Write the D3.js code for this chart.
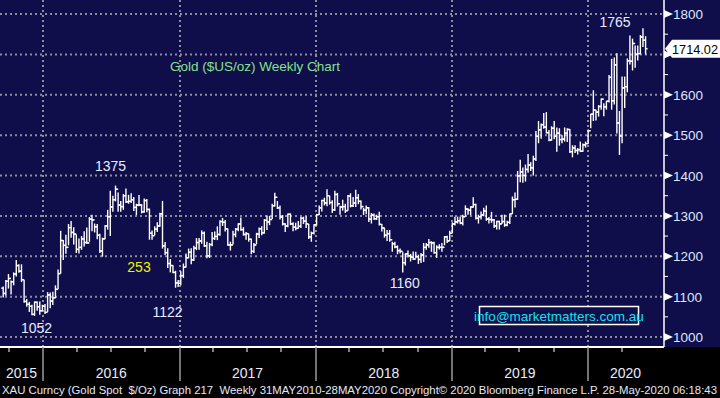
<!DOCTYPE html>
<html>
<head>
<meta charset="utf-8">
<script src="https://cdn.jsdelivr.net/npm/d3@7"></script>
<style>
  html, body { margin: 0; padding: 0; background: #000; }
  svg { display: block; }
  text { font-family: 'Liberation Sans', Arial, sans-serif; }
</style>
</head>
<body>
<script>
// weekly bars, first week ending 11 Sep 2015
const firstWeek = new Date(2015, 8, 11);
const firstOpen = 1121;

const closes = [
  1108, 1138, 1145, 1137, 1156, 1177, 1163, 1142, 1088, 1081, 1076, 1056, 1086, 1075, 1065, 1076, 1061,
  1104, 1089, 1097, 1118, 1157, 1239, 1227, 1222, 1271, 1259, 1255, 1217, 1222, 1243, 1234, 1233, 1292, 1290, 1273, 1252, 1213, 1243, 1275, 1298, 1322, 1340, 1366, 1327, 1323, 1350, 1335, 1336, 1340, 1321, 1327, 1327, 1310, 1338, 1316, 1257, 1251, 1267, 1275, 1305, 1226, 1209, 1182, 1177, 1160, 1134, 1133, 1152,
  1173, 1196, 1210, 1191, 1220, 1234, 1238, 1257, 1226, 1201, 1229, 1244, 1249, 1254, 1286, 1284, 1268, 1228, 1228, 1254, 1267, 1280, 1266, 1254, 1256, 1242, 1212, 1228, 1255, 1268, 1258, 1289, 1285, 1291, 1325, 1346, 1320, 1297, 1280, 1275, 1304, 1280, 1272, 1269, 1274, 1294, 1287, 1280, 1248, 1257, 1278, 1303,
  1320, 1338, 1332, 1350, 1333, 1315, 1353, 1330, 1322, 1323, 1313, 1349, 1325, 1332, 1345, 1336, 1323, 1314, 1320, 1292, 1302, 1293, 1298, 1279, 1270, 1252, 1256, 1241, 1231, 1223, 1214, 1212, 1184, 1206, 1201, 1198, 1193, 1199, 1192, 1203, 1222, 1228, 1234, 1233, 1209, 1222, 1222, 1222, 1248, 1238, 1257, 1280,
  1285, 1288, 1282, 1298, 1317, 1314, 1322, 1328, 1294, 1298, 1302, 1312, 1292, 1291, 1290, 1275, 1286, 1280, 1286, 1277, 1284, 1305, 1340, 1341, 1399, 1409, 1400, 1415, 1426, 1419, 1441, 1497, 1513, 1526, 1520, 1506, 1488, 1517, 1497, 1505, 1489, 1490, 1505, 1514, 1459, 1468, 1462, 1464, 1460, 1476, 1479, 1511,
  1552, 1562, 1557, 1571, 1589, 1570, 1584, 1643, 1585, 1674, 1530, 1498, 1617, 1620, 1684, 1683, 1727, 1700, 1702, 1743, 1735, 1714
];

const highs = [
  1125, 1141, 1156, 1140, 1160, 1191, 1180, 1180, 1142, 1094, 1087, 1080, 1088, 1088, 1088, 1080, 1082,
  1111, 1110, 1112, 1128, 1167, 1263, 1240, 1253, 1280, 1287, 1272, 1254, 1244, 1250, 1262, 1271, 1297, 1303, 1281, 1280, 1256, 1246, 1277, 1315, 1362, 1350, 1375, 1358, 1337, 1354, 1368, 1352, 1356, 1347, 1330, 1352, 1329, 1343, 1342, 1318, 1264, 1274, 1284, 1308, 1337, 1235, 1220, 1193, 1178, 1164, 1141, 1163,
  1182, 1207, 1219, 1220, 1226, 1245, 1245, 1264, 1261, 1236, 1233, 1260, 1261, 1274, 1289, 1295, 1290, 1269, 1236, 1263, 1270, 1282, 1296, 1272, 1260, 1256, 1244, 1233, 1258, 1271, 1274, 1292, 1301, 1300, 1330, 1357, 1337, 1326, 1302, 1282, 1306, 1306, 1284, 1283, 1287, 1297, 1298, 1299, 1280, 1261, 1279, 1305,
  1326, 1340, 1345, 1366, 1350, 1339, 1362, 1357, 1325, 1340, 1330, 1352, 1356, 1347, 1365, 1354, 1338, 1320, 1326, 1322, 1307, 1306, 1303, 1310, 1280, 1271, 1265, 1265, 1236, 1236, 1227, 1219, 1210, 1207, 1214, 1206, 1212, 1211, 1204, 1208, 1233, 1233, 1243, 1237, 1236, 1227, 1230, 1233, 1250, 1251, 1263, 1284,
  1298, 1298, 1298, 1303, 1326, 1319, 1324, 1346, 1330, 1303, 1311, 1320, 1326, 1297, 1310, 1292, 1288, 1288, 1303, 1303, 1288, 1306, 1348, 1358, 1411, 1439, 1420, 1427, 1453, 1433, 1449, 1510, 1535, 1529, 1555, 1557, 1513, 1522, 1535, 1519, 1517, 1500, 1519, 1517, 1515, 1475, 1475, 1468, 1484, 1479, 1484, 1514,
  1553, 1611, 1563, 1574, 1591, 1579, 1585, 1649, 1689, 1692, 1703, 1560, 1645, 1645, 1690, 1747, 1739, 1722, 1722, 1748, 1765, 1745
];

const lows = [
  1098, 1102, 1120, 1105, 1128, 1150, 1159, 1136, 1085, 1075, 1062, 1054, 1052, 1065, 1055, 1064, 1057,
  1062, 1071, 1079, 1096, 1118, 1157, 1191, 1206, 1227, 1246, 1229, 1208, 1207, 1216, 1224, 1231, 1236, 1262, 1259, 1242, 1208, 1199, 1242, 1266, 1250, 1310, 1336, 1310, 1310, 1315, 1332, 1330, 1332, 1312, 1302, 1324, 1306, 1308, 1309, 1241, 1241, 1252, 1260, 1273, 1219, 1203, 1171, 1160, 1158, 1122, 1124, 1128,
  1146, 1172, 1195, 1180, 1188, 1215, 1216, 1231, 1223, 1195, 1196, 1225, 1240, 1240, 1251, 1275, 1261, 1226, 1214, 1229, 1247, 1262, 1263, 1251, 1241, 1236, 1205, 1208, 1230, 1245, 1252, 1256, 1265, 1277, 1292, 1323, 1317, 1291, 1276, 1260, 1272, 1277, 1262, 1264, 1268, 1270, 1280, 1270, 1243, 1236, 1254, 1276,
  1302, 1311, 1326, 1324, 1328, 1307, 1312, 1323, 1303, 1313, 1307, 1313, 1321, 1322, 1322, 1329, 1316, 1302, 1304, 1285, 1281, 1290, 1290, 1276, 1261, 1246, 1238, 1236, 1211, 1220, 1205, 1207, 1160, 1177, 1197, 1187, 1191, 1195, 1181, 1183, 1186, 1216, 1221, 1211, 1206, 1196, 1217, 1211, 1227, 1233, 1238, 1257,
  1276, 1281, 1279, 1276, 1298, 1303, 1302, 1320, 1291, 1281, 1291, 1299, 1288, 1281, 1283, 1270, 1266, 1266, 1280, 1273, 1274, 1280, 1305, 1321, 1340, 1383, 1382, 1385, 1407, 1411, 1400, 1436, 1480, 1491, 1516, 1504, 1485, 1486, 1490, 1459, 1474, 1480, 1484, 1483, 1456, 1445, 1456, 1452, 1458, 1459, 1469, 1478,
  1517, 1535, 1536, 1546, 1563, 1547, 1563, 1581, 1563, 1576, 1504, 1451, 1480, 1567, 1606, 1675, 1660, 1667, 1685, 1700, 1718, 1700
];

const yTicks = [1000, 1100, 1200, 1300, 1400, 1500, 1600, 1700, 1800];
const yMinor = [1050, 1150, 1250, 1350, 1450, 1550, 1650, 1750];
const years = ['2015', '2016', '2017', '2018', '2019', '2020'];
const lastPrice = 1714.02;

const annotations = [
  { text: '1375', price: 1375, week: 43, dx: -5, dy: -15, color: '#e4ecff' },
  { text: '1052', price: 1052, week: 12, dx: 2, dy: 17, color: '#e4ecff' },
  { text: '1122', price: 1122, week: 66, dx: -8, dy: 29, color: '#e4ecff' },
  { text: '1160', price: 1160, week: 153, dx: 2, dy: 16, color: '#e4ecff' },
  { text: '1765', price: 1765, week: 245, dx: -28, dy: -1, color: '#e4ecff' },
  { text: '253', price: 1172, week: 52, dx: 0, dy: 4, color: '#f2f200' }
];

const footer = 'XAU Curncy (Gold Spot  $/Oz) Graph 217  Weekly 31MAY2010-28MAY2020 Copyright\u00a9 2020 Bloomberg Finance L.P. 28-May-2020 06:18:43';

const W = 720;
const H = 398;
const plotRight = 663;
const plotBottom = 347;
const navy = '#0f0e4a';

const svg = d3.select('body')
  .append('svg')
    .attr('width', W)
    .attr('height', H);

svg.append('rect')
  .attr('width', W).attr('height', H).attr('fill', '#000');
svg.append('rect')
  .attr('width', W).attr('height', plotBottom).attr('fill', navy);

const x = d3.scaleTime()
  .domain([new Date(2016, 0, 1), new Date(2020, 0, 1)])
  .range([43, 588]);
const y = d3.scaleLinear()
  .domain([1000, 1800])
  .range([337, 14]);

const data = closes.map((c, i) => ({
  date: d3.timeDay.offset(firstWeek, i * 7),
  open: i === 0 ? firstOpen : closes[i - 1],
  high: highs[i],
  low: lows[i],
  close: c
}));

// grid
const grid = svg.append('g')
  .attr('stroke', '#8e8e9a')
  .attr('stroke-width', 2)
  .attr('stroke-dasharray', '2,3');

grid.selectAll('.hgrid')
  .data(yTicks)
  .enter()
  .append('line')
    .attr('x1', 0).attr('x2', plotRight)
    .attr('y1', d => y(d)).attr('y2', d => y(d));

const yearStarts = d3.range(2016, 2021).map(yr => new Date(yr, 0, 1));

grid.selectAll('.vgrid')
  .data(yearStarts)
  .enter()
  .append('line')
    .attr('x1', d => Math.round(x(d))).attr('x2', d => Math.round(x(d)))
    .attr('y1', 0).attr('y2', plotBottom);

// bars
const off = 2;
const bars = svg.append('g')
  .attr('stroke', '#fff')
  .attr('stroke-width', 1.4);

bars.selectAll('.hl')
  .data(data)
  .enter()
  .append('line')
    .attr('x1', d => x(d.date) + off).attr('x2', d => x(d.date) + off)
    .attr('y1', d => y(d.high)).attr('y2', d => y(d.low));

bars.selectAll('.op')
  .data(data)
  .enter()
  .append('line')
    .attr('x1', d => x(d.date) + off - 2).attr('x2', d => x(d.date) + off)
    .attr('y1', d => y(d.open)).attr('y2', d => y(d.open));

bars.selectAll('.cl')
  .data(data)
  .enter()
  .append('line')
    .attr('x1', d => x(d.date) + off).attr('x2', d => x(d.date) + off + 2)
    .attr('y1', d => y(d.close)).attr('y2', d => y(d.close));

// right axis
svg.append('line')
  .attr('x1', plotRight + 1).attr('x2', plotRight + 1)
  .attr('y1', 0).attr('y2', plotBottom)
  .attr('stroke', '#fff').attr('stroke-width', 1.5);

svg.selectAll('.minor')
  .data(yMinor)
  .enter()
  .append('line')
    .attr('x1', plotRight + 1).attr('x2', plotRight + 5)
    .attr('y1', d => y(d)).attr('y2', d => y(d))
    .attr('stroke', '#fff');

svg.selectAll('.arrow')
  .data(yTicks)
  .enter()
  .append('path')
    .attr('d', d => `M${plotRight + 1},${y(d) - 4}L${plotRight + 10},${y(d)}L${plotRight + 1},${y(d) + 4}Z`)
    .attr('fill', '#fff');

// the 1700 label sits under the last price tag, as in the original
svg.selectAll('.ylab')
  .data(yTicks.filter(d => d !== 1700))
  .enter()
  .append('text')
    .attr('x', 673)
    .attr('y', d => y(d) + 5)
    .attr('fill', '#dce6ff')
    .attr('font-size', 13.5)
    .text(d => d);

// last price tag
const ly = y(lastPrice);
svg.append('path')
  .attr('d', `M665,${ly}L672,${ly - 9}L720,${ly - 9}L720,${ly + 9}L672,${ly + 9}Z`)
  .attr('fill', '#fff');
svg.append('text')
  .attr('x', 672).attr('y', ly + 5)
  .attr('fill', '#000').attr('font-size', 13)
  .attr('textLength', 46)
  .attr('lengthAdjust', 'spacingAndGlyphs')
  .text(lastPrice.toFixed(2));

// bottom axis
svg.append('line')
  .attr('x1', 0).attr('x2', plotRight + 1)
  .attr('y1', plotBottom).attr('y2', plotBottom)
  .attr('stroke', '#fff').attr('stroke-width', 2);

const quarters = d3.timeMonth.every(3).range(new Date(2015, 8, 1), new Date(2020, 5, 1))
  .filter(d => d.getMonth() !== 0);

svg.selectAll('.qtick')
  .data(quarters)
  .enter()
  .append('line')
    .attr('x1', d => Math.round(x(d))).attr('x2', d => Math.round(x(d)))
    .attr('y1', plotBottom).attr('y2', plotBottom + 5)
    .attr('stroke', '#fff');

svg.selectAll('.ysep')
  .data(yearStarts)
  .enter()
  .append('line')
    .attr('x1', d => Math.round(x(d))).attr('x2', d => Math.round(x(d)))
    .attr('y1', plotBottom).attr('y2', 381)
    .attr('stroke', '#9a9a9a').attr('stroke-width', 1.5);

svg.selectAll('.year')
  .data(years)
  .enter()
  .append('text')
    .attr('x', d => {
      const a = Math.max(0, x(new Date(+d, 0, 1)));
      const b = Math.min(plotRight, x(new Date(+d + 1, 0, 1)));
      return (a + b) / 2;
    })
    .attr('y', 378)
    .attr('text-anchor', 'middle')
    .attr('fill', '#e8ecff')
    .attr('font-size', 14)
    .text(d => d);

svg.append('text')
  .attr('x', 2).attr('y', 394)
  .attr('fill', '#e4e6f6')
  .attr('font-family', 'DejaVu Sans, sans-serif')
  .attr('font-size', 11.5)
  .attr('textLength', 715)
  .attr('lengthAdjust', 'spacingAndGlyphs')
  .style('white-space', 'pre')
  .text(footer);

// annotations
svg.selectAll('.ann')
  .data(annotations)
  .enter()
  .append('text')
    .attr('x', d => x(data[d.week].date) + off + d.dx)
    .attr('y', d => y(d.price) + d.dy)
    .attr('text-anchor', 'middle')
    .attr('fill', d => d.color)
    .attr('font-size', 14)
    .text(d => d.text);

svg.append('text')
  .attr('x', 255).attr('y', 71)
  .attr('text-anchor', 'middle')
  .attr('fill', '#86e08c')
  .attr('font-size', 13.5)
  .text('Gold ($US/oz) Weekly Chart');

svg.append('rect')
  .attr('x', 479.5).attr('y', 306.5)
  .attr('width', 159).attr('height', 18)
  .attr('fill', navy)
  .attr('stroke', '#fff').attr('stroke-width', 1.5);
svg.append('text')
  .attr('x', 559).attr('y', 320.5)
  .attr('text-anchor', 'middle')
  .attr('fill', '#16e0f0')
  .attr('font-size', 13.5)
  .text('info@marketmatters.com.au');
</script>
</body>
</html>
